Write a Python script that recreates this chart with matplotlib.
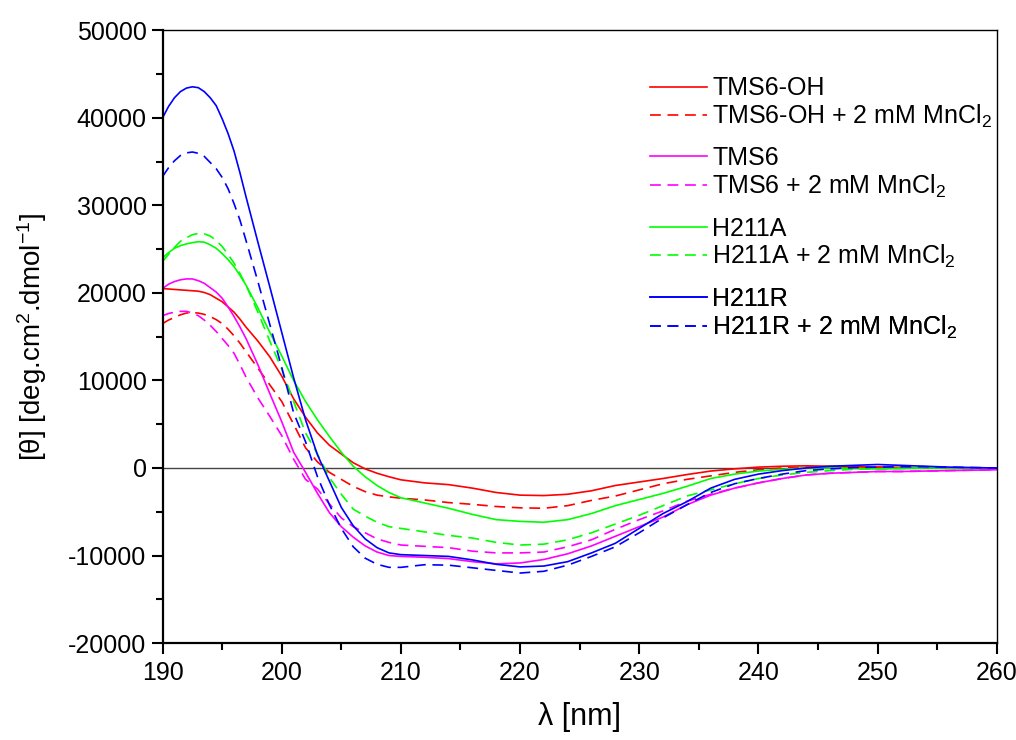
import numpy as np
import matplotlib
matplotlib.use('Agg')
import matplotlib.pyplot as plt
from matplotlib.ticker import MultipleLocator

plt.rcParams['font.family'] = ['Liberation Sans', 'DejaVu Sans']
plt.rcParams['mathtext.fontset'] = 'custom'
plt.rcParams['mathtext.rm'] = 'Liberation Sans'
plt.rcParams['mathtext.it'] = 'Liberation Sans'
plt.rcParams['axes.unicode_minus'] = False

# wavelength grid (nm)
wl = [190, 190.5, 191, 191.5, 192, 192.5, 193, 193.5, 194, 194.5, 195, 195.5, 196, 196.5,
      197, 198, 199, 200, 201, 202, 203, 204, 205, 206, 207, 208, 209, 210, 212, 214,
      216, 218, 220, 222, 224, 226, 228, 230, 232, 234, 236, 238, 240, 242, 244, 246,
      248, 250, 252, 254, 256, 258, 260]

tms6oh = [20500, 20450, 20400, 20350, 20300, 20250, 20200, 20050, 19800, 19400, 19000,
          18400, 17800, 17000, 16100, 14500, 12700, 10500, 7900, 5800, 4000, 2600, 1600,
          600, -100, -600, -1000, -1350, -1700, -1900, -2300, -2800, -3100, -3150, -3000,
          -2600, -2000, -1600, -1200, -750, -350, -100, 100, 200, 250, 200, 150, 100, 50,
          0, 0, 0, 0]
tms6oh_mn = [16500, 16900, 17200, 17500, 17700, 17750, 17700, 17550, 17300, 16950, 16500,
             15850, 15100, 14250, 13300, 11400, 9500, 7600, 5000, 2300, 700, -500, -1300,
             -2100, -2700, -3100, -3300, -3450, -3650, -3950, -4150, -4400, -4550, -4600,
             -4300, -3700, -3200, -2500, -1800, -1300, -900, -500, -200, 0, 100, 100, 100,
             100, 50, 0, 0, 0, 0]
tms6 = [20500, 21000, 21300, 21500, 21600, 21600, 21400, 21100, 20600, 20100, 19400,
        18400, 17300, 16100, 14800, 11800, 8500, 5300, 1800, -500, -2900, -5100, -6700,
        -7900, -8900, -9600, -10000, -10100, -10200, -10350, -10700, -10950, -10850,
        -10450, -9800, -8900, -7800, -6700, -5600, -4200, -3100, -2300, -1700, -1200,
        -800, -600, -500, -400, -400, -350, -300, -250, -200]
tms6_mn = [17400, 17650, 17800, 17900, 17900, 17700, 17400, 16900, 16300, 15600, 14800,
           14000, 13100, 11800, 10400, 8000, 5900, 3700, 1000, -1300, -2400, -4100, -5700,
           -6700, -7400, -8100, -8500, -8800, -8950, -9100, -9500, -9700, -9700, -9600,
           -9000, -8200, -7000, -5900, -4900, -3800, -3000, -2300, -1700, -1200, -800,
           -600, -500, -400, -400, -350, -300, -250, -200]
h211a = [24000, 24600, 25100, 25400, 25600, 25750, 25850, 25800, 25500, 25100, 24500,
         23800, 23000, 22000, 20900, 18300, 15500, 12800, 10000, 7600, 5500, 3600, 1800,
         200, -1000, -2000, -2800, -3400, -4000, -4600, -5300, -5900, -6100, -6200, -5900,
         -5200, -4300, -3600, -2900, -2100, -1200, -700, -350, -150, 0, 0, -50, -100, -50,
         0, 0, 0, 0]
h211a_mn = [23600, 24400, 25200, 25900, 26300, 26650, 26800, 26750, 26500, 26000, 25300,
            24400, 23400, 22200, 20900, 17800, 14500, 11300, 7600, 4000, 1600, -1100,
            -3000, -4700, -5500, -6200, -6700, -6900, -7300, -7700, -8000, -8500, -8800,
            -8700, -8200, -7400, -6400, -5400, -4300, -3200, -2500, -1800, -1200, -800,
            -500, -300, -150, -100, -50, 0, 0, 0, 0]
h211r = [40000, 41300, 42300, 43000, 43400, 43550, 43450, 43000, 42300, 41400, 39900,
         38200, 36200, 33700, 31000, 25800, 20700, 15500, 10300, 5500, 1500, -1500, -4500,
         -6600, -8100, -9100, -9700, -9900, -10000, -10100, -10500, -11000, -11300, -11200,
         -10700, -9700, -8600, -6900, -5200, -3850, -2300, -1300, -700, -300, 0, 200, 300,
         400, 300, 200, 100, 50, 0]
h211r_mn = [33300, 34300, 35100, 35700, 36000, 36100, 35950, 35600, 34900, 34200, 33200,
            31900, 30200, 28300, 26000, 21300, 16400, 11500, 6300, 3000, -1000, -4200,
            -6900, -9000, -10300, -11000, -11350, -11350, -11050, -11100, -11400, -11700,
            -12000, -11800, -11100, -10100, -9000, -7400, -5700, -4200, -2800, -1800,
            -1200, -700, -300, -100, 50, 100, 150, 150, 100, 50, 0]

labels = ['TMS6-OH', 'TMS6-OH + 2 mM MnCl$_2$', 'TMS6', 'TMS6 + 2 mM MnCl$_2$',
          'H211A', 'H211A + 2 mM MnCl$_2$', 'H211R', 'H211R + 2 mM MnCl$_2$']
series = [tms6oh, tms6oh_mn, tms6, tms6_mn, h211a, h211a_mn, h211r, h211r_mn]
colors = ['#ff0000', '#ff0000', '#ff00ff', '#ff00ff', '#00ff00', '#00ff00', '#0000ff', '#0000ff']

fig = plt.figure(figsize=(10.16, 7.4), dpi=100)
ax = fig.add_axes([0.160, 0.131, 0.821, 0.828])

ax.axhline(0, color='#444444', lw=1.0, zorder=1)
lines = []
for i, (y, lab, c) in enumerate(zip(series, labels, colors)):
    if i % 2 == 0:
        ln, = ax.plot(wl, y, color=c, lw=1.2, label=lab)
    else:
        ln, = ax.plot(wl, y, color=c, lw=1.2, label=lab, dashes=(6.5, 4))
    lines.append(ln)

ax.set_xlim(190, 260)
ax.set_ylim(-20000, 50000)
ax.xaxis.set_major_locator(MultipleLocator(10))
ax.xaxis.set_minor_locator(MultipleLocator(5))
ax.yaxis.set_major_locator(MultipleLocator(10000))
ax.yaxis.set_minor_locator(MultipleLocator(5000))
ax.tick_params(which='both', direction='out', top=False, right=False, labelsize=18, width=1.5)
ax.tick_params(which='major', length=8)
ax.tick_params(which='minor', length=5)
ax.tick_params(axis='x', pad=5)
for s in ['left', 'bottom']:
    ax.spines[s].set_linewidth(1.6)
for s in ['top', 'right']:
    ax.spines[s].set_linewidth(1.0)

ax.set_xlabel('λ [nm]', fontsize=22, labelpad=12)
ax.set_ylabel('[θ] [deg.cm$^2$.dmol$^{-1}$]', fontsize=20, labelpad=14)

# legend in four pairs, as in the original
tops = [0.925, 0.811, 0.696, 0.581]
for k, top in enumerate(tops):
    leg = ax.legend(handles=lines[2 * k:2 * k + 2], loc='upper left',
                    bbox_to_anchor=(0.584, top), frameon=False, fontsize=18,
                    handlelength=2.3, handletextpad=0.2, labelspacing=0.1,
                    borderaxespad=0, borderpad=0)
    ax.add_artist(leg)

fig.savefig('out.png', dpi=100)
